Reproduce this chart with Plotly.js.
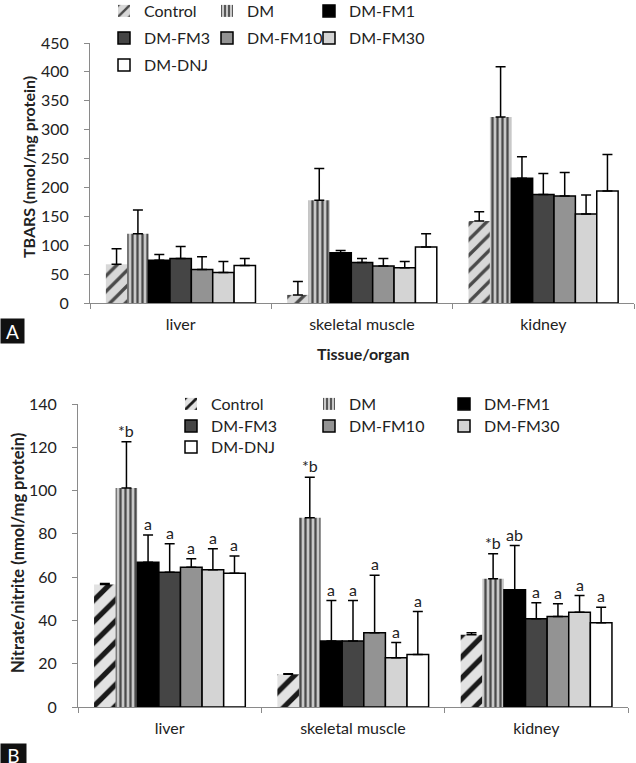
<!DOCTYPE html>
<html>
<head>
<meta charset="utf-8">
<script src="https://cdn.plot.ly/plotly-3.0.1.min.js"></script>
<style>html,body{margin:0;padding:0;background:#fff;}#chart{width:636px;height:763px;}</style>
</head>
<body>
<div id="chart"></div>
<script>
// ---------- data ----------
const tissues = ['liver', 'skeletal muscle', 'kidney'];
const seriesNames = ['Control', 'DM', 'DM-FM1', 'DM-FM3', 'DM-FM10', 'DM-FM30', 'DM-DNJ'];

// Panel A: TBARS (nmol/mg protein)
const tbarsControl = [67, 14, 142];
const tbarsDM      = [120, 178, 322];
const tbarsFM1     = [74, 87, 216];
const tbarsFM3     = [77, 70, 188];
const tbarsFM10    = [58, 64, 185];
const tbarsFM30    = [53, 61, 154];
const tbarsDNJ     = [65, 97, 194];
const tbarsErrControl = [27, 23, 16];
const tbarsErrDM      = [41, 55, 87];
const tbarsErrFM1     = [10, 4, 37];
const tbarsErrFM3     = [21, 7, 36];
const tbarsErrFM10    = [22, 13, 41];
const tbarsErrFM30    = [19, 11, 33];
const tbarsErrDNJ     = [12, 23, 63];

// Panel B: Nitrate/nitrite (nmol/mg protein)
const noxControl = [56.6, 15.1, 33.4];
const noxDM      = [101.2, 87.4, 59.2];
const noxFM1     = [66.9, 30.5, 54.2];
const noxFM3     = [62.3, 30.5, 40.8];
const noxFM10    = [64.6, 34.3, 41.8];
const noxFM30    = [63.4, 22.8, 43.8];
const noxDNJ     = [61.8, 24.3, 38.9];
const noxErrControl = [0.5, 0.3, 0.9];
const noxErrDM      = [21.4, 18.7, 11.6];
const noxErrFM1     = [12.6, 18.7, 20.4];
const noxErrFM3     = [13.1, 18.7, 7.4];
const noxErrFM10    = [3.9, 26.6, 5.9];
const noxErrFM30    = [9.7, 7.0, 7.7];
const noxErrDNJ     = [8.0, 19.8, 7.2];

// significance letters (panel B)
const sigControl = ['', '', ''];
const sigDM      = ['*b', '*b', '*b'];
const sigFM1     = ['a', 'a', 'ab'];
const sigFM3     = ['a', 'a', 'a'];
const sigFM10    = ['a', 'a', 'a'];
const sigFM30    = ['a', 'a', 'a'];
const sigDNJ     = ['a', 'a', 'a'];

// ---------- styling ----------
const FONT = 'Lato, "Open Sans", sans-serif';
const W = 636, H = 763;
const px = v => v / W;
const py = v => 1 - v / H;

const styleTop = [
  {color: '#cfcfcf', pattern: {shape: '/', fgcolor: '#4a4a4a', bgcolor: '#d8d8d8', size: 11, solidity: 0.3}, line: 0},
  {color: '#bdbdbd', pattern: {shape: '|', fgcolor: '#4a4a4a', bgcolor: '#c8c8c8', size: 5, solidity: 0.45}, line: 0},
  {color: '#000000', line: 1.5},
  {color: '#454545', line: 1.5},
  {color: '#939393', line: 1.5},
  {color: '#d4d4d4', line: 1.5},
  {color: '#ffffff', line: 1.5}
];
const styleBot = [
  {color: '#cfcfcf', pattern: {shape: '/', fgcolor: '#1a1a1a', bgcolor: '#e2e2e2', size: 15, solidity: 0.35}, line: 0},
  {color: '#bdbdbd', pattern: {shape: '|', fgcolor: '#4a4a4a', bgcolor: '#c8c8c8', size: 5, solidity: 0.45}, line: 0},
  {color: '#000000', line: 1.5},
  {color: '#454545', line: 1.5},
  {color: '#939393', line: 1.5},
  {color: '#d4d4d4', line: 1.5},
  {color: '#ffffff', line: 1.5}
];

const topVals = [tbarsControl, tbarsDM, tbarsFM1, tbarsFM3, tbarsFM10, tbarsFM30, tbarsDNJ];
const topErrs = [tbarsErrControl, tbarsErrDM, tbarsErrFM1, tbarsErrFM3, tbarsErrFM10, tbarsErrFM30, tbarsErrDNJ];
const botVals = [noxControl, noxDM, noxFM1, noxFM3, noxFM10, noxFM30, noxDNJ];
const botErrs = [noxErrControl, noxErrDM, noxErrFM1, noxErrFM3, noxErrFM10, noxErrFM30, noxErrDNJ];
const botSig  = [sigControl, sigDM, sigFM1, sigFM3, sigFM10, sigFM30, sigDNJ];

// legend grid placement (3 columns), pixel positions
const topLegCols = [104, 207, 309], topLegRows = [11, 38, 65];
const botLegCols = [171, 309, 444], botLegRows = [404, 426, 447];

function mkTrace(name, vals, errs, st, xa, ya, leg) {
  const marker = {color: st.color, line: {color: '#000', width: st.line}};
  if (st.pattern) marker.pattern = st.pattern;
  return {
    type: 'bar', name: name, x: tissues, y: vals, xaxis: xa, yaxis: ya, legend: leg,
    marker: marker,
    error_y: {type: 'data', symmetric: false, array: errs, arrayminus: errs.map(() => 0),
              color: '#000', thickness: 1.5, width: 5},
    hoverinfo: 'name+y'
  };
}

function legendDef(x, y) {
  return {orientation: 'h', x: px(x), y: py(y), xanchor: 'left', yanchor: 'middle', xref: 'paper', yref: 'paper',
          bgcolor: 'rgba(0,0,0,0)', borderwidth: 0,
          font: {family: FONT, size: 16, color: '#222'}, itemwidth: 30};
}

const traces = [];
const legends = {};
let legN = 0;
function legendId() { legN += 1; return legN === 1 ? 'legend' : 'legend' + legN; }
seriesNames.forEach((n, i) => {
  const id = legendId();
  legends[id] = legendDef(topLegCols[i % 3], topLegRows[Math.floor(i / 3)]);
  traces.push(mkTrace(n, topVals[i], topErrs[i], styleTop[i], 'x', 'y', id));
});
seriesNames.forEach((n, i) => {
  const id = legendId();
  legends[id] = legendDef(botLegCols[i % 3], botLegRows[Math.floor(i / 3)]);
  traces.push(mkTrace(n, botVals[i], botErrs[i], styleBot[i], 'x2', 'y2', id));
});

const BARGAP = 0.175;
const bw = (1 - BARGAP) / seriesNames.length;

const annotations = [];
// significance letters
botSig.forEach((labels, si) => {
  labels.forEach((lab, ci) => {
    if (!lab) return;
    annotations.push({
      xref: 'x2', yref: 'y2', x: ci + (si - 3) * bw, y: botVals[si][ci] + botErrs[si][ci],
      text: lab, showarrow: false, yanchor: 'bottom', xanchor: 'center',
      font: {family: FONT, size: 16, color: '#222'}
    });
  });
});
// axis titles & panel labels
annotations.push(
  {xref: 'paper', yref: 'paper', x: px(28), y: py(167), xanchor: 'center', yanchor: 'middle',
   text: '<b>TBARS (nmol/mg protein)</b>', textangle: -90,
   showarrow: false, font: {family: FONT, size: 16, color: '#222'}},
  {xref: 'paper', yref: 'paper', x: px(18), y: py(553), xanchor: 'center', yanchor: 'middle',
   text: '<b>Nitrate/nitrite (nmol/mg protein)</b>', textangle: -90,
   showarrow: false, font: {family: FONT, size: 16.5, color: '#222'}},
  {xref: 'paper', yref: 'paper', x: px(363), y: py(353), xanchor: 'center', yanchor: 'middle',
   text: '<b>Tissue/organ</b>',
   showarrow: false, font: {family: FONT, size: 16, color: '#222'}},
  {xref: 'paper', yref: 'paper', x: px(353), y: py(770), xanchor: 'center', yanchor: 'middle',
   text: '<b>Tissue/organ</b>',
   showarrow: false, font: {family: FONT, size: 16, color: '#222'}},
  {xref: 'paper', yref: 'paper', x: 0, xanchor: 'left', y: py(331), yanchor: 'middle', text: 'A', width: 23, height: 24,
   bgcolor: '#111', borderpad: 0, showarrow: false, font: {family: FONT, size: 19, color: '#fff'}},
  {xref: 'paper', yref: 'paper', x: 0, xanchor: 'left', y: py(755), yanchor: 'middle', text: 'B', width: 25, height: 22,
   bgcolor: '#111', borderpad: 0, showarrow: false, font: {family: FONT, size: 19, color: '#fff'}}
);

const axisCommon = {
  showgrid: false, zeroline: false, showline: true, linecolor: '#8a8a8a', linewidth: 1,
  ticks: 'outside', ticklen: 5, tickcolor: '#8a8a8a', tickwidth: 1,
  tickfont: {family: FONT, size: 16, color: '#222'}, fixedrange: true
};

const layout = Object.assign({
  width: W, height: H, margin: {l: 0, r: 0, t: 0, b: 0, autoexpand: false},
  paper_bgcolor: '#fff', plot_bgcolor: '#fff',
  barmode: 'group', bargap: BARGAP, bargroupgap: 0,
  showlegend: true,
  xaxis: Object.assign({}, axisCommon, {domain: [px(90), px(634)], anchor: 'y', type: 'category',
    tickson: 'boundaries', ticklabelstandoff: 7}),
  yaxis: Object.assign({}, axisCommon, {domain: [py(303), py(43)], anchor: 'x', range: [0, 450], dtick: 50,
    ticklabelstandoff: 12}),
  xaxis2: Object.assign({}, axisCommon, {domain: [px(78), px(628)], anchor: 'y2', type: 'category',
    tickson: 'boundaries', ticklabelstandoff: 7}),
  yaxis2: Object.assign({}, axisCommon, {domain: [py(707), py(404)], anchor: 'x2', range: [0, 140], dtick: 20,
    ticklabelstandoff: 12}),
  annotations: annotations
}, legends);

Plotly.newPlot('chart', traces, layout, {displayModeBar: false, staticPlot: true});
</script>
</body>
</html>
